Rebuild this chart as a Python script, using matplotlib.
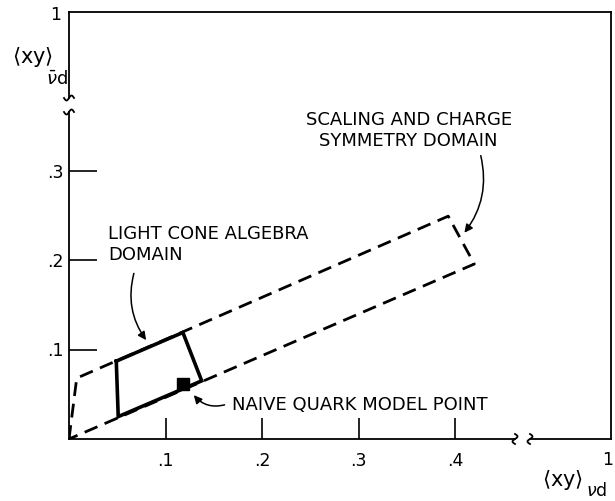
import numpy as np
import matplotlib
matplotlib.use('Agg')
import matplotlib.pyplot as plt

plt.rcParams['font.family'] = 'DejaVu Sans'
plt.rcParams['mathtext.fontset'] = 'dejavusans'

# scaling and charge symmetry domain (dashed)
scal_x = [0.0, 0.008, 0.393, 0.420, 0.0]
scal_y = [0.0, 0.068, 0.249, 0.1955, 0.0]
# light cone algebra domain (solid)
lc_x = [0.049, 0.118, 0.1375, 0.051, 0.049]
lc_y = [0.087, 0.119, 0.065, 0.025, 0.087]
# naive quark model point
nq_x = [0.118]
nq_y = [0.061]

xticks = [0.1, 0.2, 0.3, 0.4]
xlabels = ['.1', '.2', '.3', '.4']
yticks = [0.1, 0.2, 0.3]
ylabels = ['.1', '.2', '.3']

fig = plt.figure(figsize=(6.15, 5.01), dpi=100)
W, H = 615, 501
ax = fig.add_axes([69 / W, (501 - 439) / H, (611 - 69) / W, (439 - 12) / H])
ax.set_xlim(0, 542 / 965)
ax.set_ylim(0, 427 / 895)

ax.plot(scal_x, scal_y, color='black', lw=2, linestyle=(0, (5, 2.8)))
ax.plot(lc_x, lc_y, color='black', lw=2.6, solid_joinstyle='miter')
ax.plot(nq_x, nq_y, marker='s', color='black', markersize=9, linestyle='none')

ax.set_xticks(xticks)
ax.set_xticklabels(xlabels)
ax.set_yticks(yticks)
ax.set_yticklabels(ylabels)
ax.tick_params(axis='x', direction='in', length=15, width=1.2, pad=9, labelsize=12.5)
ax.tick_params(axis='y', direction='in', length=20, width=1.2, pad=4, labelsize=12.5)

# spines with breaks
for s in ['left', 'bottom']:
    ax.spines[s].set_visible(False)
for s in ['top', 'right']:
    ax.spines[s].set_linewidth(1.3)

aw, ah = 542.0, 427.0
kw = dict(color='black', lw=1.3, transform=ax.transAxes, clip_on=False)
yb1, yb2 = (439 - 112) / ah, (439 - 98) / ah
xb1, xb2 = (515 - 69) / aw, (530 - 69) / aw
ax.plot([0, 0], [0, yb1], **kw)
ax.plot([0, 0], [yb2, 1], **kw)
ax.plot([0, xb1], [0, 0], **kw)
ax.plot([xb2, 1], [0, 0], **kw)

t = np.linspace(-1, 1, 30)
for yb in (yb1, yb2):
    ax.plot(t * 5 / aw, yb + 2.5 * np.sin(np.pi * t) / ah, **kw)
for xb in (xb1, xb2):
    ax.plot(xb + 2.5 * np.sin(np.pi * t) / aw, t * 5 / ah, **kw)

ax.text(-13 / aw, 1 - 3 / ah, '1', transform=ax.transAxes, ha='center', va='center', fontsize=12.5)
ax.text(1 - 3 / aw, -21 / ah, '1', transform=ax.transAxes, ha='center', va='center', fontsize=12.5)

# axis labels
fig.text(12 / W, 1 - 57 / H, r'$\langle\mathrm{xy}\rangle$', ha='left', va='center', fontsize=15)
fig.text(46 / W, 1 - 79 / H, r'$\bar{\nu}\mathrm{d}$', ha='left', va='center', fontsize=13)
fig.text(542 / W, 1 - 480 / H, r'$\langle\mathrm{xy}\rangle$', ha='left', va='center', fontsize=15)
fig.text(586 / W, 1 - 491 / H, r'$\nu\mathrm{d}$', ha='left', va='center', fontsize=12.5)

# annotations
ax.text(0.352, 0.345, 'SCALING AND CHARGE\nSYMMETRY DOMAIN', ha='center', va='center',
        fontsize=13, linespacing=1.2)
ax.annotate('', xy=(0.408, 0.228), xytext=(0.426, 0.3196),
            arrowprops=dict(arrowstyle='-|>', color='black', lw=1.1,
                            connectionstyle='arc3,rad=-0.25', mutation_scale=12))

ax.text(0.0404, 0.2173, 'LIGHT CONE ALGEBRA\nDOMAIN', ha='left', va='center',
        fontsize=13, linespacing=1.2)
ax.annotate('', xy=(0.0816, 0.108), xytext=(0.068, 0.188),
            arrowprops=dict(arrowstyle='-|>', color='black', lw=1.1,
                            connectionstyle='arc3,rad=0.25', mutation_scale=12))

ax.text(0.169, 0.038, 'NAIVE QUARK MODEL POINT', ha='left', va='center', fontsize=13)
ax.annotate('', xy=(0.1275, 0.0514), xytext=(0.164, 0.039),
            arrowprops=dict(arrowstyle='-|>', color='black', lw=1.1,
                            connectionstyle='arc3,rad=-0.35', mutation_scale=12))

fig.savefig('out.png', dpi=100)
